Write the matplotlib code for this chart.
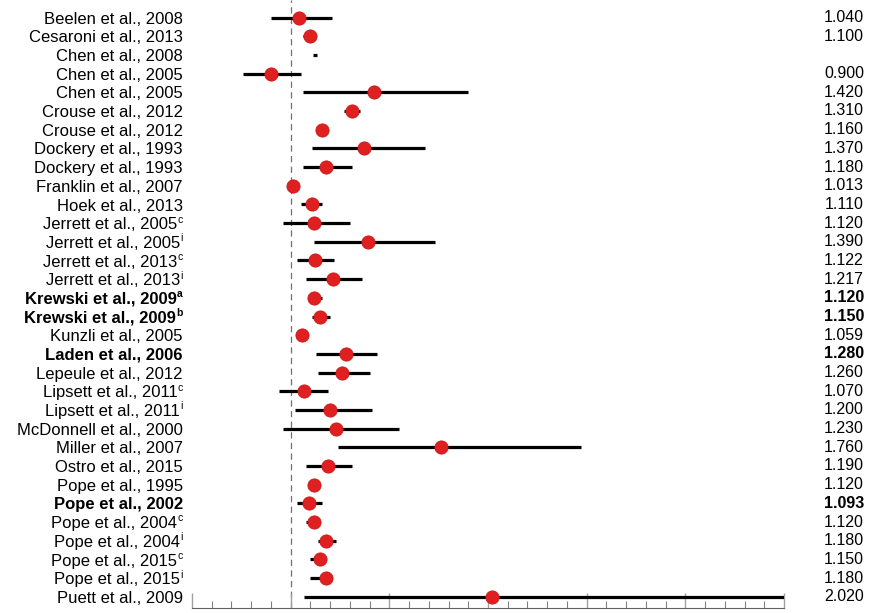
import numpy as np
import matplotlib
matplotlib.use('Agg')
import matplotlib.pyplot as plt
from matplotlib.ticker import MultipleLocator

plt.rcParams['font.family'] = ['Liberation Sans', 'DejaVu Sans']

studies = ['Beelen et al., 2008', 'Cesaroni et al., 2013', 'Chen et al., 2008',
           'Chen et al., 2005', 'Chen et al., 2005', 'Crouse et al., 2012',
           'Crouse et al., 2012', 'Dockery et al., 1993', 'Dockery et al., 1993',
           'Franklin et al., 2007', 'Hoek et al., 2013',
           'Jerrett et al., 2005', 'Jerrett et al., 2005',
           'Jerrett et al., 2013', 'Jerrett et al., 2013',
           'Krewski et al., 2009', 'Krewski et al., 2009',
           'Kunzli et al., 2005', 'Laden et al., 2006', 'Lepeule et al., 2012',
           'Lipsett et al., 2011', 'Lipsett et al., 2011',
           'McDonnell et al., 2000', 'Miller et al., 2007', 'Ostro et al., 2015',
           'Pope et al., 1995', 'Pope et al., 2002',
           'Pope et al., 2004', 'Pope et al., 2004',
           'Pope et al., 2015', 'Pope et al., 2015',
           'Puett et al., 2009']
sups = [''] * 11 + ['c', 'i', 'c', 'i', 'a', 'b', '', '', '', 'c', 'i',
                    '', '', '', '', '', 'c', 'i', 'c', 'i', '']

rr = [1.040, 1.100, np.nan, 0.900, 1.420, 1.310, 1.160, 1.370, 1.180, 1.013,
      1.110, 1.120, 1.390, 1.122, 1.217, 1.120, 1.150, 1.059, 1.280, 1.260,
      1.070, 1.200, 1.230, 1.760, 1.190, 1.120, 1.093, 1.120, 1.180, 1.150,
      1.180, 2.020]
lo = [0.90, 1.06, 1.115, 0.76, 1.06, 1.27, 1.13, 1.11, 1.06, 1.00,
      1.05, 0.96, 1.12, 1.03, 1.08, 1.09, 1.11, 1.04, 1.13, 1.14,
      0.94, 1.02, 0.96, 1.24, 1.08, 1.09, 1.03, 1.08, 1.14, 1.10,
      1.10, 1.07]
hi = [1.21, 1.13, 1.135, 1.05, 1.90, 1.35, 1.19, 1.68, 1.31, 1.03,
      1.16, 1.30, 1.73, 1.22, 1.36, 1.16, 1.20, 1.08, 1.44, 1.40,
      1.19, 1.41, 1.55, 2.47, 1.31, 1.15, 1.16, 1.14, 1.23, 1.17,
      1.20, 3.80]
bold = [False] * 15 + [True, True, False, True] + [False] * 7 + [True] + [False] * 5

fig = plt.figure(figsize=(8.78, 6.13), dpi=100)
ax = fig.add_axes([192 / 878, 1 - 608 / 613, 592 / 878, 608 / 613])

y = np.arange(len(studies))
ax.axvline(1.0, color='#707070', lw=0.9, ls=(0, (5, 3.5)), zorder=1)
ax.hlines(y, lo, hi, color='black', lw=2.3, zorder=2)
ax.plot(rr, y, 'o', color='#e02020', markeredgecolor='#c81818',
        markeredgewidth=0.6, markersize=9.5, zorder=3)

ax.set_xlim(0.5, 3.5)
ax.set_ylim(len(studies) - 1 + 0.6, -0.94)
ax.set_yticks([])

# study labels, with small superscripts drawn separately
trans = ax.get_yaxis_transform()
pad = 6.5
fig.canvas.draw()
renderer = fig.canvas.get_renderer()
for yi, name, sup, b in zip(y, studies, sups, bold):
    w = 'bold' if b else 'normal'
    off = 0
    if sup:
        s = ax.annotate(sup, xy=(0, yi), xycoords=trans, xytext=(-pad, 0.4),
                        textcoords='offset points', ha='right', va='baseline',
                        fontsize=7.5, fontweight=w)
        off = s.get_window_extent(renderer).width * 72 / fig.dpi + 0.3
    ax.annotate(name, xy=(0, yi), xycoords=trans, xytext=(-pad - off, -4.4),
                textcoords='offset points', ha='right', va='baseline',
                fontsize=12, fontweight=w)

for yi, v, b in zip(y, rr, bold):
    txt = '' if np.isnan(v) else f'{v:.3f}'
    ax.text(1.135, yi, txt, transform=trans,
            ha='right', va='center', fontsize=11.5,
            fontweight='bold' if b else 'normal')

ax.xaxis.set_major_locator(MultipleLocator(0.5))
ax.xaxis.set_minor_locator(MultipleLocator(0.1))
ax.tick_params(axis='x', which='major', direction='in', length=11,
               color='#a0a0a0', width=1, labelbottom=False)
ax.tick_params(axis='x', which='minor', direction='in', length=5,
               color='#808080', width=0.8)

for s in ['left', 'right', 'top']:
    ax.spines[s].set_visible(False)
ax.spines['bottom'].set_color('#606060')

fig.savefig('out.png', dpi=100)
